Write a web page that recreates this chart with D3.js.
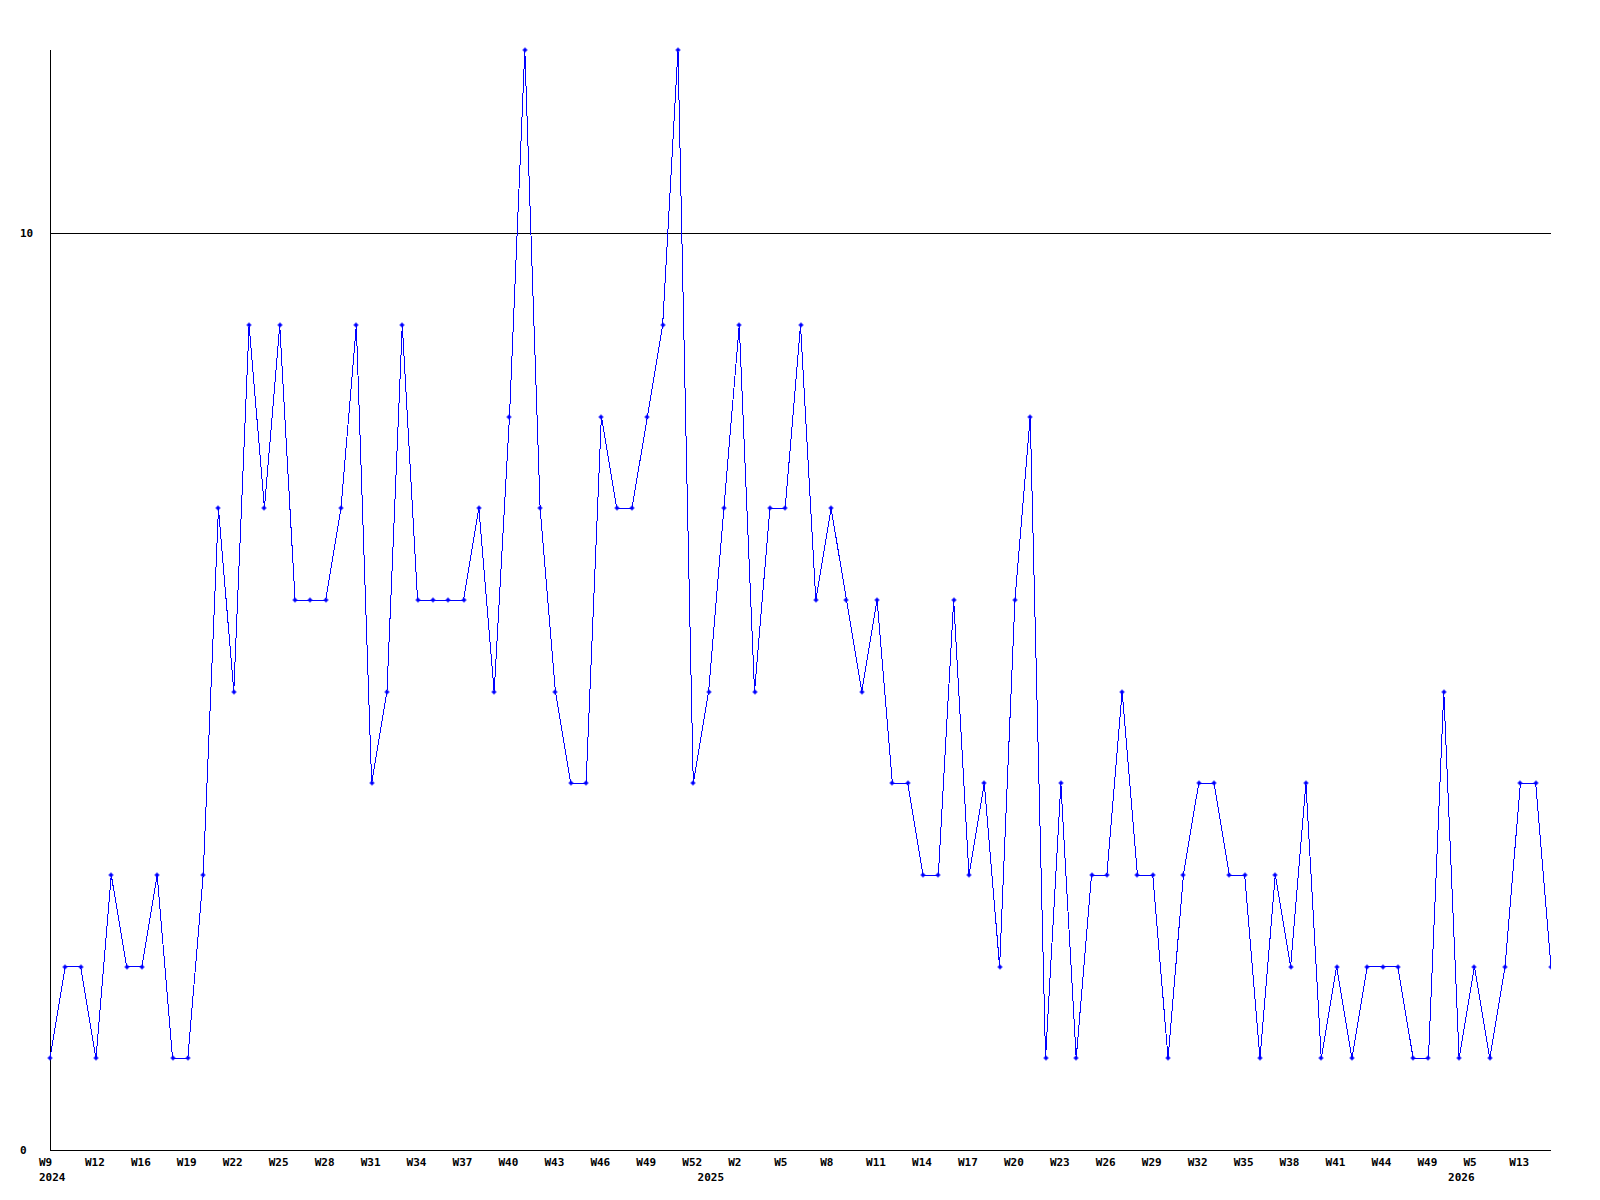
<!DOCTYPE html>
<html lang="en">
<head>
    <meta charset="UTF-8">
    <title>Weekly count</title>
    <script src="https://d3js.org/d3.v7.min.js"></script>
    <style>
        html, body {
            margin: 0;
            padding: 0;
            background: #fff;
        }
        svg {
            display: block;
        }
        .lbl {
            font-family: "DejaVu Sans Mono", "Liberation Mono", monospace;
            font-weight: bold;
            font-size: 11px;
            fill: #000;
        }
    </style>
</head>
<body>
    <svg id="chart"></svg>
    <script>
        // one value per week that has data (weeks with no data are skipped, not gaps)
        const values = [
            1, 2, 2, 1, 3, 2, 2, 3, 1, 1,
            3, 7, 5, 9, 7, 9, 6, 6, 6, 7,
            9, 4, 5, 9, 6, 6, 6, 6, 7, 5,
            8, 12, 7, 5, 4, 4, 8, 7, 7, 8,
            9, 12, 4, 5, 7, 9, 5, 7, 7, 9,
            6, 7, 6, 5, 6, 4, 4, 3, 3, 6,
            3, 4, 2, 6, 8, 1, 4, 1, 3, 3,
            5, 3, 3, 1, 3, 4, 4, 3, 3, 1,
            3, 2, 4, 1, 2, 1, 2, 2, 2, 1,
            1, 5, 1, 2, 1, 2, 4, 4, 2
        ];

        // week labels, shown on every third point
        const weekLabels = [
            "W9", "W12", "W16", "W19", "W22", "W25", "W28", "W31", "W34", "W37",
            "W40", "W43", "W46", "W49", "W52", "W2", "W5", "W8", "W11", "W14",
            "W17", "W20", "W23", "W26", "W29", "W32", "W35", "W38", "W41", "W44",
            "W49", "W5", "W13"
        ];
        const labelEvery = 3;

        // year labels and the index of the first point of that year
        const years = ["2024", "2025", "2026"];
        const yearStart = [0, 43, 92];

        const yTicks = [0, 10];
        const yMax = 12;

        const width = 1600, height = 1200;
        const margin = { top: 50, right: 49, bottom: 50, left: 50 };

        const svg = d3.select("#chart").attr("width", width).attr("height", height);

        const x = d3.scaleLinear()
            .domain([0, values.length - 1])
            .range([margin.left, width - margin.right]);

        const y = d3.scaleLinear()
            .domain([0, yMax])
            .range([height - margin.bottom, margin.top]);

        // clip so the last marker gets cut at the plot edge like the original
        svg.append("clipPath").attr("id", "clip")
            .append("rect")
            .attr("x", margin.left - 5)
            .attr("y", 0)
            .attr("width", width - margin.right - margin.left + 5)
            .attr("height", height);

        // horizontal grid line(s) for the non-zero ticks
        svg.selectAll(".grid")
            .data(yTicks.filter(d => d > 0))
            .enter()
            .append("line")
            .attr("class", "grid")
            .attr("x1", x(0))
            .attr("x2", x(values.length - 1))
            .attr("y1", d => Math.round(y(d)) + 0.5)
            .attr("y2", d => Math.round(y(d)) + 0.5)
            .attr("stroke", "#000")
            .attr("shape-rendering", "crispEdges");

        // axes as plain lines
        svg.append("line")
            .attr("x1", x(0) + 0.5).attr("x2", x(0) + 0.5)
            .attr("y1", y(yMax)).attr("y2", y(0))
            .attr("stroke", "#000")
            .attr("shape-rendering", "crispEdges");

        svg.append("line")
            .attr("x1", x(0)).attr("x2", x(values.length - 1))
            .attr("y1", y(0) + 0.5).attr("y2", y(0) + 0.5)
            .attr("stroke", "#000")
            .attr("shape-rendering", "crispEdges");

        // y labels
        svg.selectAll(".ylbl")
            .data(yTicks)
            .enter()
            .append("text")
            .attr("class", "lbl ylbl")
            .attr("x", 20)
            .attr("y", d => y(d) + 4)
            .text(d => d);

        // x labels
        svg.selectAll(".xlbl")
            .data(weekLabels)
            .enter()
            .append("text")
            .attr("class", "lbl xlbl")
            .attr("x", (d, i) => x(i * labelEvery) - 11)
            .attr("y", y(0) + 16)
            .text(d => d);

        svg.selectAll(".yrlbl")
            .data(years)
            .enter()
            .append("text")
            .attr("class", "lbl yrlbl")
            .attr("x", (d, i) => x(yearStart[i]) - 11)
            .attr("y", y(0) + 31)
            .text(d => d);

        const plot = svg.append("g").attr("clip-path", "url(#clip)");

        const line = d3.line()
            .x((d, i) => x(i))
            .y(d => y(d));

        plot.append("path")
            .datum(values)
            .attr("fill", "none")
            .attr("stroke", "#0000ff")
            .attr("stroke-width", 1)
            .attr("shape-rendering", "crispEdges")
            .attr("d", line);

        // small plus-shaped markers
        plot.selectAll(".dot")
            .data(values)
            .enter()
            .append("path")
            .attr("class", "dot")
            .attr("transform", (d, i) => `translate(${Math.round(x(i))},${Math.round(y(d))})`)
            .attr("d", "M-2.5,-0.5h5v1h-5z M-0.5,-2.5h1v5h-1z M-1.5,-1.5h3v3h-3z")
            .attr("fill", "#0000ff");
    </script>
</body>
</html>
